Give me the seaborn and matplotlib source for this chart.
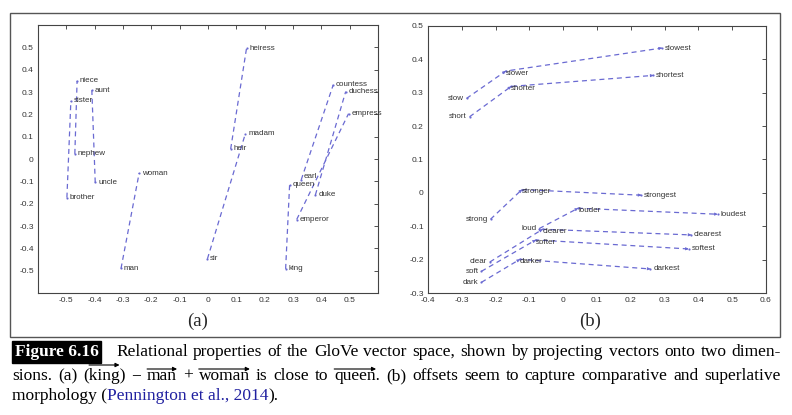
"""
GloVe relational properties figure (two projected panels + caption)
"""

import matplotlib
matplotlib.use("Agg")
import matplotlib.pyplot as plt
import seaborn as sns
import pandas as pd
from matplotlib.patches import Rectangle, FancyArrowPatch

sns.set_style("white")
plt.rcParams['font.family'] = ['Liberation Sans', 'DejaVu Sans']

# ===== Data: panel (a), male -> female pairs =====
male_words = ['brother', 'nephew', 'uncle', 'man', 'sir', 'heir', 'king', 'earl', 'duke', 'emperor']
male_x = [-0.498, -0.470, -0.398, -0.307, -0.002, 0.080, 0.274, 0.329, 0.379, 0.313]
male_y = [-0.173, 0.023, -0.105, -0.490, -0.447, 0.045, -0.492, -0.093, -0.161, -0.271]

female_words = ['sister', 'niece', 'aunt', 'woman', 'madam', 'heiress', 'queen', 'countess', 'duchess', 'empress']
female_x = [-0.484, -0.462, -0.410, -0.243, 0.132, 0.136, 0.288, 0.442, 0.486, 0.496]
female_y = [0.260, 0.350, 0.308, -0.063, 0.114, 0.496, -0.116, 0.332, 0.302, 0.203]

# ===== Data: panel (b), base -> comparative -> superlative =====
base_words = ['slow', 'short', 'strong', 'loud', 'clear', 'soft', 'dark']
base_x = [-0.286, -0.277, -0.215, -0.071, -0.217, -0.242, -0.242]
base_y = [0.283, 0.228, -0.079, -0.107, -0.207, -0.235, -0.268]

comp_words = ['slower', 'shorter', 'stronger', 'louder', 'clearer', 'softer', 'darker']
comp_x = [-0.170, -0.154, -0.122, 0.044, -0.061, -0.081, -0.128]
comp_y = [0.365, 0.319, 0.010, -0.046, -0.109, -0.141, -0.199]

sup_words = ['slowest', 'shortest', 'strongest', 'loudest', 'clearest', 'softest', 'darkest']
sup_x = [0.292, 0.267, 0.231, 0.457, 0.379, 0.371, 0.258]
sup_y = [0.434, 0.352, -0.007, -0.064, -0.126, -0.168, -0.228]

ticks_a = [-0.5, -0.4, -0.3, -0.2, -0.1, 0, 0.1, 0.2, 0.3, 0.4, 0.5]
ticks_b_x = [-0.4, -0.3, -0.2, -0.1, 0, 0.1, 0.2, 0.3, 0.4, 0.5, 0.6]
ticks_b_y = [-0.3, -0.2, -0.1, 0, 0.1, 0.2, 0.3, 0.4, 0.5]

# Build tidy frames
rows = []
for i in range(len(male_words)):
    rows.append({'pair': i, 'word': male_words[i], 'x': male_x[i], 'y': male_y[i]})
    rows.append({'pair': i, 'word': female_words[i], 'x': female_x[i], 'y': female_y[i]})
df_a = pd.DataFrame(rows)

rows = []
for i in range(len(base_words)):
    rows.append({'chain': i, 'word': base_words[i], 'x': base_x[i], 'y': base_y[i]})
    rows.append({'chain': i, 'word': comp_words[i], 'x': comp_x[i], 'y': comp_y[i]})
    rows.append({'chain': i, 'word': sup_words[i], 'x': sup_x[i], 'y': sup_y[i]})
df_b = pd.DataFrame(rows)

LINE_COLOR = '#6a6ad2'
TEXT_COLOR = '#333333'
TICK_FS = 6
WORD_FS = 5.8

left_words = set(base_words)
below_words = set(comp_words)
raised_words = {'earl'}   # nudged up so it doesn't sit on top of 'queen'

fig = plt.figure(figsize=(7.92, 4.15), dpi=100)
W_PX, H_PX = 792.0, 415.0

# outer frame
fig.patches.append(Rectangle((10 / W_PX, 1 - 337 / H_PX), 770 / W_PX, 324 / H_PX,
                             transform=fig.transFigure, fill=False,
                             edgecolor='#555555', linewidth=1.0))

ax1 = fig.add_axes([38 / W_PX, 1 - 293 / H_PX, 340 / W_PX, 268 / H_PX])
ax2 = fig.add_axes([428 / W_PX, 1 - 293 / H_PX, 338 / W_PX, 267 / H_PX])


def style_axes(ax, xt, yt, xlim, ylim):
    ax.set_xlim(xlim)
    ax.set_ylim(ylim)
    ax.set_xticks(xt)
    ax.set_yticks(yt)
    ax.set_xticklabels(['%g' % t for t in xt])
    ax.set_yticklabels(['%g' % t for t in yt])
    ax.tick_params(direction='in', length=3, width=0.6, labelsize=TICK_FS,
                   top=True, right=True, pad=3, colors='#333333')
    for s in ax.spines.values():
        s.set_color('#444444')
        s.set_linewidth(0.8)
    ax.set_xlabel('')
    ax.set_ylabel('')


def add_arrow(ax, x0, y0, x1, y1):
    # tiny arrowhead at end of segment
    dx, dy = x1 - x0, y1 - y0
    ax.annotate('', xy=(x1, y1), xytext=(x1 - dx * 0.02, y1 - dy * 0.02),
                arrowprops=dict(arrowstyle='-|>', color=LINE_COLOR, lw=0.6,
                                mutation_scale=4, shrinkA=0, shrinkB=0))


# ===== Panel (a) =====
sns.lineplot(data=df_a, x='x', y='y', units='pair', estimator=None, sort=False,
             color=LINE_COLOR, linewidth=0.9, linestyle=(0, (4, 3)), ax=ax1)
sns.scatterplot(data=df_a, x='x', y='y', s=2, color=LINE_COLOR, edgecolor=None, ax=ax1)
for _, r in df_a.iterrows():
    if r['word'] in raised_words:
        off, va = (2, 0), 'bottom'
    else:
        off, va = (2, 0), 'center'
    ax1.annotate(r['word'], (r['x'], r['y']), xytext=off, textcoords='offset points',
                 ha='left', va=va, fontsize=WORD_FS, color=TEXT_COLOR)
style_axes(ax1, ticks_a, ticks_a, (-0.6, 0.6), (-0.6, 0.6))

# ===== Panel (b) =====
sns.lineplot(data=df_b, x='x', y='y', units='chain', estimator=None, sort=False,
             color=LINE_COLOR, linewidth=0.9, linestyle=(0, (4, 3)), ax=ax2)
for i in range(len(base_words)):
    add_arrow(ax2, base_x[i], base_y[i], comp_x[i], comp_y[i])
    add_arrow(ax2, comp_x[i], comp_y[i], sup_x[i], sup_y[i])
sns.scatterplot(data=df_b, x='x', y='y', s=2, color=LINE_COLOR, edgecolor=None, ax=ax2)
for _, r in df_b.iterrows():
    w = r['word']
    if w in left_words:
        off, ha, va = (-2, 0), 'right', 'center'
    elif w in below_words:
        off, ha, va = (0, 1), 'left', 'top'
    else:
        off, ha, va = (2, 0), 'left', 'center'
    ax2.annotate(w, (r['x'], r['y']), xytext=off, textcoords='offset points',
                 ha=ha, va=va, fontsize=WORD_FS, color=TEXT_COLOR)
style_axes(ax2, ticks_b_x, ticks_b_y, (-0.4, 0.6), (-0.3, 0.5))

# sub-panel labels
fig.text(198 / W_PX, 1 - 321 / H_PX, '(a)', ha='center', va='center',
         fontsize=13.5, family='Liberation Serif')
fig.text(590 / W_PX, 1 - 321 / H_PX, '(b)', ha='center', va='center',
         fontsize=13.5, family='Liberation Serif')

# ===== Caption =====
CAP_FS = 12.5
SERIF = 'Liberation Serif'
renderer = fig.canvas.get_renderer()


def vec_arrow(x0_px, x1_px, y_px):
    # arrow drawn over a word (vector notation)
    fig.add_artist(FancyArrowPatch((x0_px / W_PX, 1 - y_px / H_PX), (x1_px / W_PX, 1 - y_px / H_PX),
                                   transform=fig.transFigure, arrowstyle='-|>',
                                   mutation_scale=6, lw=0.8, color='black',
                                   shrinkA=0, shrinkB=0))


def justified_line(tokens, y_px, x0_px, x1_px):
    # tokens: (text, arrow) where arrow = (inset_left, inset_right, height above baseline) or None
    texts = []
    for tok, _ in tokens:
        t = fig.text(0, 1 - y_px / H_PX, tok, fontsize=CAP_FS, family=SERIF,
                     va='baseline', ha='left', color='black')
        texts.append(t)
    widths = [t.get_window_extent(renderer).width for t in texts]
    gap = (x1_px - x0_px - sum(widths)) / (len(texts) - 1)
    x = x0_px
    for (tok, arr), t, w in zip(tokens, texts, widths):
        t.set_x(x / W_PX)
        if arr is not None:
            vec_arrow(x + arr[0], x + w - arr[1], y_px - arr[2])
        x += w + gap


def plain_line(parts, y_px, x0_px):
    x = x0_px
    for tok, col in parts:
        t = fig.text(x / W_PX, 1 - y_px / H_PX, tok, fontsize=CAP_FS, family=SERIF,
                     va='baseline', ha='left', color=col)
        x += t.get_window_extent(renderer).width


fig.text(15 / W_PX, 1 - 356 / H_PX, 'Figure 6.16', fontsize=CAP_FS, family=SERIF,
         fontweight='bold', color='white', va='baseline', ha='left',
         bbox=dict(boxstyle='square,pad=0.15', facecolor='black', edgecolor='black'))

line1 = [(w, None) for w in
         'Relational properties of the GloVe vector space, shown by projecting vectors onto two dimen-'.split()]
justified_line(line1, 356, 116, 781)

line2 = [('sions.', None), ('(a)', None), ('(king)', (6, 6, 15)), ('\u2212', None),
         ('man', (0, 0, 11)), ('+', None), ('woman', (0, 0, 11)),
         ('is', None), ('close', None), ('to', None), ('queen.', (0, 4, 11)), ('(b)', None),
         ('offsets', None), ('seem', None), ('to', None), ('capture', None),
         ('comparative', None), ('and', None), ('superlative', None)]
justified_line(line2, 380, 12, 781)

plain_line([('morphology (', 'black'), ('Pennington et al., 2014', '#2020a0'), (').', 'black')],
           400, 12)

plt.savefig('out.png', dpi=100)
